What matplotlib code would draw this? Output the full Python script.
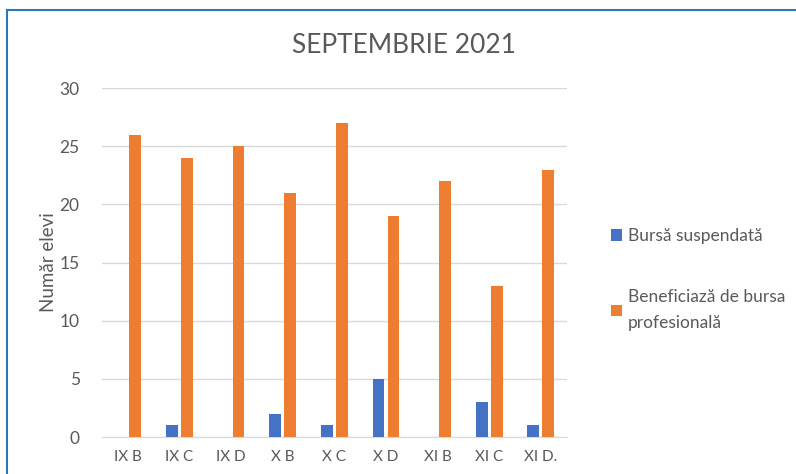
import matplotlib.pyplot as plt
import numpy as np
from matplotlib.patches import Rectangle

# Date
clase = ['IX B', 'IX C', 'IX D', 'X B', 'X C', 'X D', 'XI B', 'XI C', 'XI D.']
bursa_suspendata = [0, 1, 0, 2, 1, 5, 0, 3, 1]
beneficiaza = [26, 24, 25, 21, 27, 19, 22, 13, 23]

plt.rcParams['font.family'] = ['Lato', 'DejaVu Sans']
gri = '#595959'

fig = plt.figure(figsize=(7.96, 4.74), dpi=100)
ax = fig.add_axes([0.128, 0.078, 0.584, 0.736])

x = np.arange(len(clase))
w = 0.23
ax.bar(x - 0.145, bursa_suspendata, width=w, color='#4472C4', label='Bursă suspendată', zorder=3)
ax.bar(x + 0.145, beneficiaza, width=w, color='#ED7D31', label='Beneficiază de bursa\nprofesională', zorder=3)

ax.set_xlim(-0.5, len(clase) - 0.5)
ax.set_ylim(0, 30)
ax.set_yticks(range(0, 31, 5))
ax.set_xticks(x)
ax.set_xticklabels(clase)
ax.grid(axis='y', color='#d9d9d9', linewidth=1, zorder=0)
for s in ['top', 'right', 'left']:
    ax.spines[s].set_visible(False)
ax.spines['bottom'].set_color('#d9d9d9')
ax.tick_params(length=0, colors=gri)
ax.tick_params(axis='y', labelsize=12.5, pad=16)
ax.tick_params(axis='x', labelsize=11, pad=9)
ax.set_ylabel('Număr elevi', color=gri, fontsize=13.5, labelpad=2)

fig.text(0.508, 0.905, 'SEPTEMBRIE 2021', ha='center', va='center', fontsize=19, color=gri)

leg = fig.legend(loc='center left', bbox_to_anchor=(0.748, 0.41), frameon=False,
                 fontsize=12.5, labelspacing=2.6, handlelength=0.65, handleheight=0.65,
                 handletextpad=0.3, labelcolor=gri)
for t in leg.get_texts():
    t.set_linespacing(1.75)

# chenarul albastru al capturii
fig.patches.append(Rectangle((7 / 796, -0.1), 1.2, 1.1 - 10 / 474,
                             transform=fig.transFigure, fill=False,
                             edgecolor='#2E75B6', linewidth=1.5))

fig.savefig('out.png', dpi=100)
